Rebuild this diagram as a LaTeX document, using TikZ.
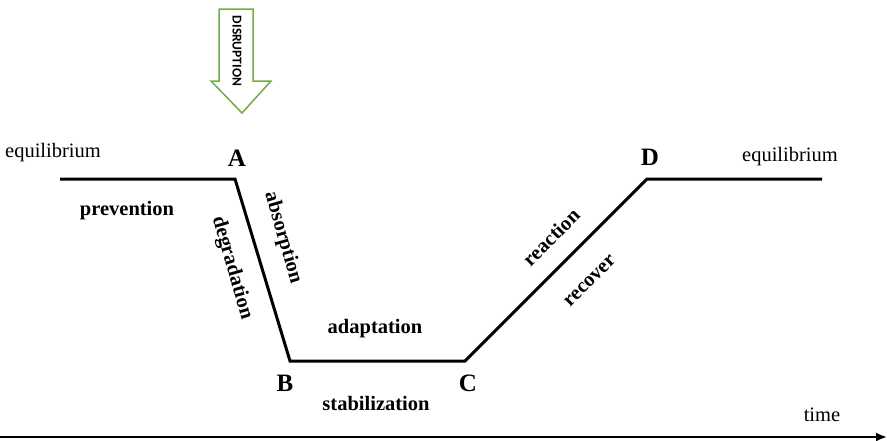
\documentclass[tikz,border=0pt]{standalone}
\usepackage{fontspec}
\setmainfont{Liberation Serif}
\newfontfamily\calfont{Carlito}
\usetikzlibrary{arrows.meta}
\definecolor{shockgreen}{RGB}{112,173,71}
\tikzset{
  curve/.style={line width=3pt, line join=miter},
  lbl/.style={font=\fontsize{20.5}{24}\selectfont, inner sep=0pt},
  blbl/.style={font=\fontsize{20.5}{24}\selectfont\bfseries, inner sep=0pt},
  pt/.style={font=\fontsize{25}{28}\selectfont\bfseries, inner sep=0pt},
  axis/.style={line width=2pt, -{Latex[length=11pt,width=9pt]}},
  shock/.style={draw=shockgreen, line width=1.5pt, fill=white, line join=miter}
}
\begin{document}
\begin{tikzpicture}[x=1pt,y=-1pt]
\useasboundingbox (0,0) rectangle (887,440);

% resilience curve
\coordinate (s) at (60,179);
\coordinate (A) at (235,179);
\coordinate (B) at (290,361);
\coordinate (C) at (465,361);
\coordinate (D) at (647,179);
\coordinate (e) at (822,179);
\draw[curve] (s) -- (A) -- (B) -- (C) -- (D) -- (e);

% time axis
\coordinate (t0) at (0,437);
\coordinate (t1) at (887,437);
\draw[axis] (t0) -- (t1);
\node[lbl] (time) at (822,415) {time};

% phase points
\node[pt] (lA) at (237,158) {A};
\node[pt] (lB) at (285,383) {B};
\node[pt] (lC) at (468,383) {C};
\node[pt] (lD) at (650,157) {D};

% labels
\node[lbl] (eqL) at (53,153) {equilibrium};
\node[lbl] (eqR) at (790,157) {equilibrium};
\node[blbl] (prev) at (127,211) {prevention};
\node[blbl, rotate=-74] (degr) at (232,268) {degradation};
\node[blbl, rotate=-74] (abso) at (283,238) {absorption};
\node[blbl] (adap) at (375,329) {adaptation};
\node[blbl] (stab) at (376,403) {stabilization};
\node[blbl, rotate=45] (reac) at (551,237) {reaction};
\node[blbl, rotate=45] (reco) at (590,281) {recover};

% disruption arrow
\draw[shock] (219,9) -- (253,9) -- (253,81) -- (271,81) -- (242,113)
  -- (211,81) -- (219,81) -- cycle;
\node[font=\calfont\bfseries\fontsize{13.5}{15}\selectfont, rotate=-90, inner sep=0pt] (disr) at (237,51) {DISRUPTION};
\end{tikzpicture}
\end{document}
